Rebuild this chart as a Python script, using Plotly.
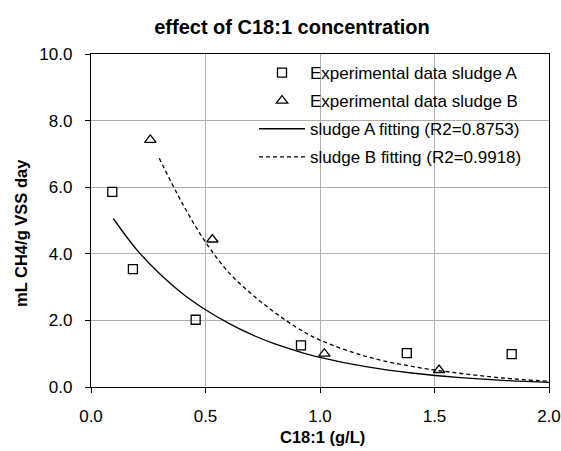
import plotly.graph_objects as go

# Experimental data
xA = [0.093, 0.183, 0.457, 0.917, 1.379, 1.837]
yA = [5.86, 3.54, 2.02, 1.25, 1.02, 0.99]
xB = [0.259, 0.530, 1.019, 1.520]
yB = [7.42, 4.43, 1.00, 0.51]

# Fitting curves
xFitA = [0.097, 0.2, 0.3, 0.4, 0.5, 0.6, 0.7, 0.8, 0.9, 1.0, 1.2, 1.4, 1.6, 1.8, 2.0]
yFitA = [5.06, 4.12, 3.40, 2.80, 2.32, 1.92, 1.58, 1.30, 1.08, 0.89, 0.61, 0.42, 0.29, 0.20, 0.14]
xFitB = [0.298, 0.4, 0.5, 0.6, 0.7, 0.8, 0.9, 1.0, 1.2, 1.4, 1.6, 1.8, 2.0]
yFitB = [6.87, 5.50, 4.35, 3.45, 2.80, 2.25, 1.78, 1.41, 0.92, 0.62, 0.42, 0.27, 0.17]

names = ["Experimental data sludge A", "Experimental data sludge B",
         "sludge A fitting (R2=0.8753)", "sludge B fitting (R2=0.9918)"]

X_RANGE = [0, 2]
Y_RANGE = [0, 10]

FONT = "Liberation Sans, Arial, sans-serif"
L, R, T, B = 91, 12, 54, 64
W, H = 561, 451
pw = W - L - R
ph = H - T - B

fig = go.Figure()
fig.add_trace(go.Scatter(x=xA, y=yA, mode="markers", name=names[0], legendgroup="a",
                         marker=dict(symbol="square-open", size=9, color="black", line=dict(width=1.3))))
fig.add_trace(go.Scatter(x=xB, y=yB, mode="markers", name=names[1], legendgroup="b",
                         marker=dict(symbol="triangle-up-open", size=10, color="black", line=dict(width=1.3))))
fig.add_trace(go.Scatter(x=xFitA, y=yFitA, mode="lines", name=names[2], legendgroup="c",
                         line=dict(color="black", width=1.3, shape="spline")))
fig.add_trace(go.Scatter(x=xFitB, y=yFitB, mode="lines", name=names[3], legendgroup="d",
                         line=dict(color="black", width=1.3, dash="4px,3px", shape="spline")))
# empty trace to activate the overlay axes that carry the short visible ticks
fig.add_trace(go.Scatter(x=[None], y=[None], xaxis="x2", yaxis="y2", showlegend=False,
                         hoverinfo="skip", mode="markers"))

main_axis = dict(showline=True, linecolor="black", linewidth=1.3, mirror=True,
                 ticks="outside", tickcolor="rgba(0,0,0,0)", tickwidth=1,
                 showgrid=True, gridcolor="#b0b0b0", gridwidth=1, zeroline=False,
                 automargin=False,
                 tickformat=".1f", tickfont=dict(family=FONT, size=17, color="black"))
tick_axis = dict(showline=False, showgrid=False, zeroline=False, showticklabels=False,
                 ticks="outside", ticklen=5, tickcolor="black", tickwidth=1, automargin=False)

fig.update_layout(
    xaxis=dict(range=X_RANGE, dtick=0.5, tick0=0, ticklen=13, **main_axis),
    yaxis=dict(range=Y_RANGE, dtick=2, tick0=0, ticklen=14, **main_axis),
    xaxis2=dict(range=X_RANGE, dtick=0.5, tick0=0, overlaying="x", anchor="y2", side="bottom", **tick_axis),
    yaxis2=dict(range=Y_RANGE, dtick=2, tick0=0, overlaying="y", anchor="x2", side="left", **tick_axis),
)

fig.update_layout(
    width=W, height=H,
    margin=dict(l=L, r=R, t=T, b=B, pad=0, autoexpand=False),
    paper_bgcolor="white", plot_bgcolor="white",
    title=dict(text="<b>effect of C18:1 concentration</b>", xref="container", yref="container",
               x=292 / W, y=1 - 27 / H, xanchor="center", yanchor="middle",
               font=dict(family=FONT, size=20, color="black")),
    legend=dict(x=(254 - L) / pw, y=1 - 1 / ph, xanchor="left", yanchor="top",
                bgcolor="rgba(0,0,0,0)", borderwidth=0, itemwidth=46,
                traceorder="grouped", tracegroupgap=3,
                font=dict(family=FONT, size=17, color="black")),
    annotations=[
        dict(text="<b>C18:1 (g/L)</b>", xref="paper", yref="paper",
             x=(322 - L) / pw, y=(T + ph - 437) / ph, xanchor="center", yanchor="middle",
             showarrow=False, font=dict(family=FONT, size=16.5, color="black")),
        dict(text="<b>mL CH4/g VSS day</b>", xref="paper", yref="paper", textangle=-90,
             x=(21 - L) / pw, y=(T + ph - 233) / ph, xanchor="center", yanchor="middle",
             showarrow=False, font=dict(family=FONT, size=16.5, color="black")),
    ],
    showlegend=True,
)

fig.write_html("out.html")
